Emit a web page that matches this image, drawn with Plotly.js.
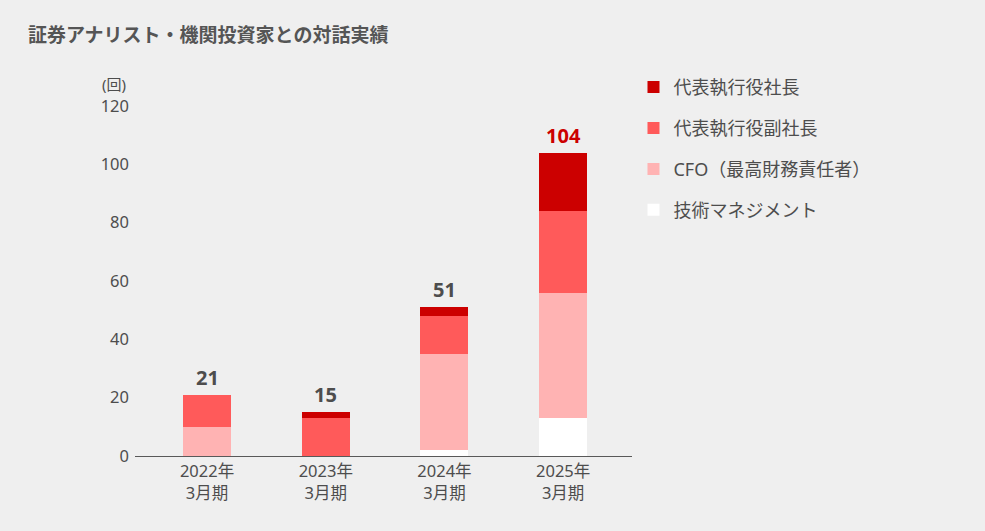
<!DOCTYPE html>
<html>
<head>
<meta charset="utf-8">
<script src="https://cdn.plot.ly/plotly-3.0.1.min.js"></script>
<style>html,body{margin:0;padding:0;background:#efefef;}#chart{width:985px;height:531px;}</style>
</head>
<body>
<div id="chart"></div>
<script>
const categories = ['2022年<br>3月期', '2023年<br>3月期', '2024年<br>3月期', '2025年<br>3月期'];
const seriesNames = ['技術マネジメント', 'CFO（最高財務責任者）', '代表執行役副社長', '代表執行役社長'];
const techMgmt = [0, 0, 2, 13];
const cfo = [10, 0, 33, 43];
const vicePresident = [11, 13, 13, 28];
const president = [0, 2, 3, 20];
const totals = [21, 15, 51, 104];
const yTicks = [0, 20, 40, 60, 80, 100, 120];

const colors = ['#ffffff', '#ffb3b3', '#ff5a5a', '#cc0000'];
const values = [techMgmt, cfo, vicePresident, president];
const FONT = '"Noto Sans", "Noto Sans CJK JP", sans-serif';

const traces = values.map((v, i) => ({
  type: 'bar',
  name: seriesNames[i],
  x: categories,
  y: v,
  marker: {color: colors[i], line: {width: 0}},
  legendgroup: 'g' + (4 - i),
  legendrank: 4 - i,
  hoverinfo: 'skip'
}));

const annotations = categories.map((c, i) => ({
  x: c, y: totals[i], xref: 'x', yref: 'y',
  text: '<b>' + totals[i] + '</b>',
  showarrow: false, yanchor: 'bottom', yshift: 2,
  font: {family: FONT, size: 20, color: i === 3 ? '#cc0000' : '#4d4d4d'}
}));
annotations.push({
  x: -0.014, y: 1.062, xref: 'paper', yref: 'paper',
  xanchor: 'right', yanchor: 'middle', showarrow: false,
  text: '(回)', font: {family: FONT, size: 15, color: '#4d4d4d'}
});

const layout = {
  width: 985, height: 531,
  paper_bgcolor: '#efefef', plot_bgcolor: '#efefef',
  margin: {l: 135, r: 353, t: 106, b: 75},
  barmode: 'stack', bargap: 0.596,
  font: {family: FONT, size: 16.5, color: '#4d4d4d'},
  title: {
    text: '<b>証券アナリスト・機関投資家との対話実績</b>',
    x: 28 / 985, xref: 'container', xanchor: 'left',
    y: 1 - 35 / 531, yref: 'container', yanchor: 'middle',
    font: {family: FONT, size: 19, color: '#555555'}
  },
  xaxis: {
    type: 'category', range: [-0.607, 3.58],
    showline: true, linecolor: '#595959', linewidth: 1.3,
    ticks: '', showgrid: false, zeroline: false,
    tickfont: {family: FONT, size: 16.5, color: '#4d4d4d'}
  },
  yaxis: {
    range: [0, 120], tickvals: yTicks, ticktext: yTicks.map(String),
    showgrid: false, zeroline: false, showline: false, ticks: '',
    ticklabelstandoff: 5,
    tickfont: {family: FONT, size: 16.5, color: '#4d4d4d'}
  },
  showlegend: true,
  legend: {
    x: 1.003, xanchor: 'left', y: 1.106, yanchor: 'top',
    traceorder: 'grouped', tracegroupgap: 14.5,
    bgcolor: 'rgba(0,0,0,0)',
    font: {family: FONT, size: 18, color: '#4d4d4d'}
  },
  annotations: annotations
};

Plotly.newPlot('chart', traces, layout, {displayModeBar: false, staticPlot: true});
</script>
</body>
</html>
